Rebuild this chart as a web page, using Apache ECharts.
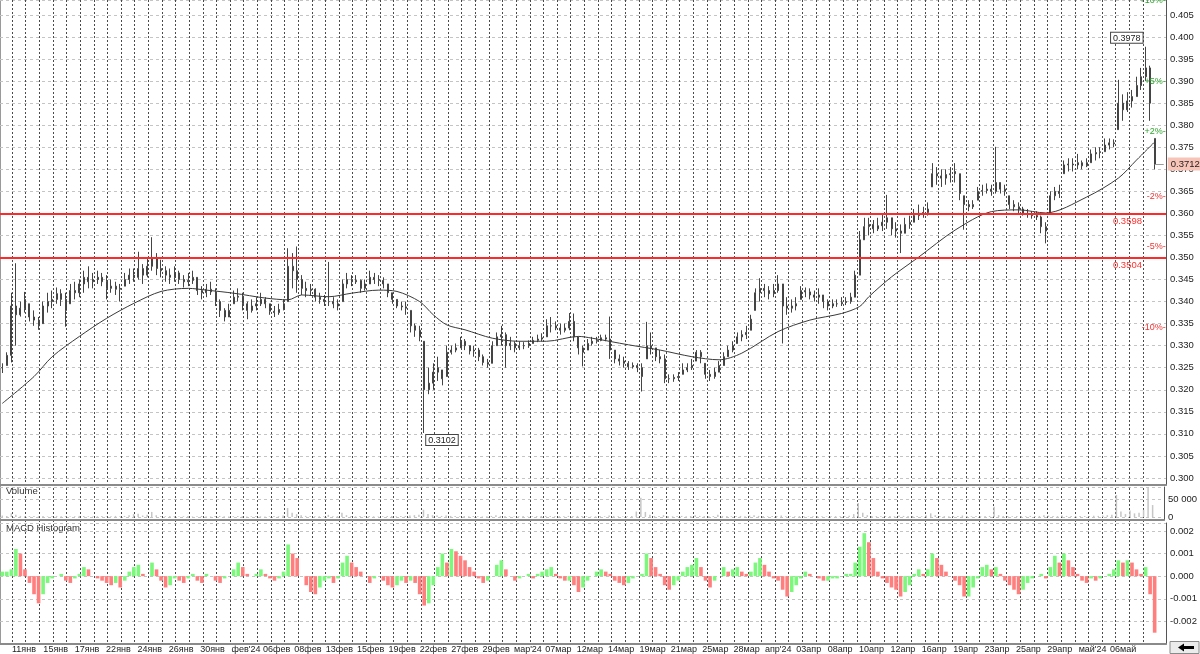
<!DOCTYPE html>
<html>
<head>
<meta charset="utf-8">
<title>price chart</title>
<script src="https://cdn.jsdelivr.net/npm/echarts@6/dist/echarts.min.js"></script>
<style>
  html, body { margin: 0; padding: 0; background: #fff; }
  #chart { width: 1200px; height: 654px; }
</style>
</head>
<body>
<div id="chart"></div>
<script>
// ---- data ----
const dateLabels = ['11янв', '15янв', '17янв', '22янв', '24янв', '26янв', '30янв', "фев'24", '06фев', '08фев',
  '13фев', '15фев', '19фев', '22фев', '27фев', '29фев', "мар'24", '07мар', '12мар', '14мар', '19мар', '21мар',
  '25мар', '28мар', "апр'24", '03апр', '08апр', '10апр', '12апр', '16апр', '19апр', '23апр', '25апр', '29апр',
  "май'24", '06май'];

// intraday bars (about 3 per grid column)
const lows = [
  0.3238, 0.3255, 0.3262, 0.3300, 0.3366, 0.3375, 0.3355, 0.3345, 0.3336, 0.3350, // 0
  0.3375, 0.3385, 0.3395, 0.3390, 0.3343, 0.3395, 0.3405, 0.3410, 0.3420, 0.3430, // 10
  0.3430, 0.3440, 0.3435, 0.3405, 0.3420, 0.3415, 0.3400, 0.3435, 0.3440, 0.3445, // 20
  0.3450, 0.3440, 0.3455, 0.3470, 0.3460, 0.3455, 0.3445, 0.3440, 0.3445, 0.3440, // 30
  0.3432, 0.3435, 0.3440, 0.3415, 0.3405, 0.3410, 0.3415, 0.3390, 0.3365, 0.3355, // 40
  0.3365, 0.3395, 0.3400, 0.3380, 0.3360, 0.3375, 0.3380, 0.3390, 0.3385, 0.3370, // 50
  0.3365, 0.3370, 0.3380, 0.3400, 0.3430, 0.3420, 0.3415, 0.3410, 0.3415, 0.3400, // 60
  0.3395, 0.3390, 0.3390, 0.3385, 0.3380, 0.3400, 0.3430, 0.3435, 0.3440, 0.3420, // 70
  0.3425, 0.3440, 0.3440, 0.3435, 0.3430, 0.3410, 0.3395, 0.3385, 0.3380, 0.3370, // 80
  0.3330, 0.3320, 0.3310, 0.3102, 0.3190, 0.3200, 0.3220, 0.3210, 0.3230, 0.3280, // 90
  0.3285, 0.3295, 0.3290, 0.3280, 0.3275, 0.3265, 0.3255, 0.3250, 0.3260, 0.3300, // 100
  0.3300, 0.3250, 0.3290, 0.3285, 0.3290, 0.3292, 0.3295, 0.3305, 0.3308, 0.3310, // 110
  0.3320, 0.3330, 0.3335, 0.3325, 0.3330, 0.3335, 0.3310, 0.3280, 0.3253, 0.3290, // 120
  0.3300, 0.3305, 0.3310, 0.3310, 0.3270, 0.3260, 0.3255, 0.3250, 0.3245, 0.3248, // 130
  0.3240, 0.3196, 0.3270, 0.3280, 0.3265, 0.3260, 0.3215, 0.3215, 0.3218, 0.3220, // 140
  0.3235, 0.3240, 0.3245, 0.3265, 0.3260, 0.3225, 0.3220, 0.3225, 0.3240, 0.3255, // 150
  0.3275, 0.3285, 0.3305, 0.3310, 0.3315, 0.3335, 0.3380, 0.3400, 0.3410, 0.3405, // 160
  0.3410, 0.3420, 0.3305, 0.3370, 0.3375, 0.3380, 0.3405, 0.3410, 0.3405, 0.3400, // 170
  0.3395, 0.3385, 0.3380, 0.3385, 0.3388, 0.3390, 0.3392, 0.3395, 0.3410, 0.3460, // 180
  0.3540, 0.3550, 0.3555, 0.3560, 0.3560, 0.3565, 0.3550, 0.3545, 0.3510, 0.3555, // 190
  0.3565, 0.3580, 0.3585, 0.3590, 0.3595, 0.3660, 0.3665, 0.3660, 0.3665, 0.3670, // 200
  0.3670, 0.3630, 0.3563, 0.3605, 0.3610, 0.3630, 0.3640, 0.3645, 0.3640, 0.3645, // 210
  0.3645, 0.3640, 0.3610, 0.3605, 0.3600, 0.3595, 0.3590, 0.3588, 0.3585, 0.3555, // 220
  0.3532, 0.3600, 0.3630, 0.3635, 0.3690, 0.3695, 0.3695, 0.3700, 0.3700, 0.3705, // 230
  0.3715, 0.3720, 0.3725, 0.3740, 0.3745, 0.3750, 0.3790, 0.3810, 0.3830, 0.3840, // 240
  0.3865, 0.3880, 0.3900, 0.3810, 0.3700                                          // 250
];
const highs = [
  0.3260, 0.3285, 0.3420, 0.3487, 0.3400, 0.3422, 0.3395, 0.3380, 0.3365, 0.3400,
  0.3420, 0.3425, 0.3432, 0.3428, 0.3420, 0.3440, 0.3445, 0.3450, 0.3470, 0.3480,
  0.3465, 0.3470, 0.3465, 0.3460, 0.3450, 0.3445, 0.3440, 0.3465, 0.3475, 0.3475,
  0.3513, 0.3485, 0.3500, 0.3546, 0.3510, 0.3495, 0.3480, 0.3475, 0.3480, 0.3470,
  0.3460, 0.3465, 0.3470, 0.3455, 0.3435, 0.3440, 0.3445, 0.3430, 0.3405, 0.3385,
  0.3395, 0.3425, 0.3430, 0.3420, 0.3400, 0.3405, 0.3410, 0.3420, 0.3410, 0.3395,
  0.3390, 0.3395, 0.3405, 0.3521, 0.3510, 0.3525, 0.3460, 0.3445, 0.3440, 0.3430,
  0.3420, 0.3415, 0.3490, 0.3410, 0.3405, 0.3450, 0.3465, 0.3460, 0.3460, 0.3450,
  0.3450, 0.3470, 0.3465, 0.3460, 0.3455, 0.3440, 0.3420, 0.3405, 0.3400, 0.3400,
  0.3380, 0.3350, 0.3345, 0.3310, 0.3250, 0.3260, 0.3275, 0.3245, 0.3300, 0.3300,
  0.3305, 0.3320, 0.3315, 0.3300, 0.3300, 0.3295, 0.3280, 0.3270, 0.3310, 0.3330,
  0.3345, 0.3330, 0.3320, 0.3310, 0.3310, 0.3308, 0.3312, 0.3320, 0.3325, 0.3328,
  0.3360, 0.3365, 0.3355, 0.3350, 0.3350, 0.3374, 0.3373, 0.3320, 0.3300, 0.3315,
  0.3320, 0.3320, 0.3325, 0.3325, 0.3366, 0.3290, 0.3280, 0.3275, 0.3265, 0.3262,
  0.3260, 0.3260, 0.3354, 0.3330, 0.3295, 0.3290, 0.3280, 0.3235, 0.3235, 0.3240,
  0.3260, 0.3260, 0.3270, 0.3290, 0.3290, 0.3260, 0.3245, 0.3250, 0.3265, 0.3285,
  0.3300, 0.3310, 0.3330, 0.3335, 0.3345, 0.3370, 0.3430, 0.3453, 0.3440, 0.3435,
  0.3440, 0.3460, 0.3440, 0.3410, 0.3405, 0.3410, 0.3435, 0.3432, 0.3430, 0.3425,
  0.3430, 0.3415, 0.3405, 0.3405, 0.3405, 0.3410, 0.3410, 0.3420, 0.3470, 0.3560,
  0.3590, 0.3590, 0.3585, 0.3590, 0.3600, 0.3642, 0.3590, 0.3580, 0.3575, 0.3590,
  0.3595, 0.3610, 0.3620, 0.3615, 0.3625, 0.3714, 0.3705, 0.3700, 0.3700, 0.3705,
  0.3714, 0.3690, 0.3640, 0.3630, 0.3630, 0.3660, 0.3665, 0.3668, 0.3665, 0.3751,
  0.3670, 0.3665, 0.3640, 0.3630, 0.3625, 0.3615, 0.3610, 0.3605, 0.3605, 0.3595,
  0.3580, 0.3650, 0.3660, 0.3665, 0.3720, 0.3725, 0.3725, 0.3735, 0.3720, 0.3725,
  0.3745, 0.3750, 0.3750, 0.3770, 0.3770, 0.3768, 0.3903, 0.3870, 0.3875, 0.3880,
  0.3910, 0.3930, 0.3978, 0.3935, 0.3770
];
const closes = [
  0.3250, 0.3278, 0.3390, 0.3370, 0.3385, 0.3405, 0.3365, 0.3358, 0.3345, 0.3390,
  0.3400, 0.3405, 0.3418, 0.3405, 0.3380, 0.3425, 0.3420, 0.3440, 0.3455, 0.3445,
  0.3450, 0.3455, 0.3445, 0.3430, 0.3435, 0.3428, 0.3430, 0.3450, 0.3460, 0.3455,
  0.3475, 0.3460, 0.3480, 0.3500, 0.3475, 0.3470, 0.3460, 0.3455, 0.3465, 0.3450,
  0.3445, 0.3448, 0.3455, 0.3425, 0.3420, 0.3428, 0.3422, 0.3400, 0.3380, 0.3365,
  0.3380, 0.3410, 0.3412, 0.3395, 0.3380, 0.3390, 0.3395, 0.3405, 0.3395, 0.3378,
  0.3375, 0.3382, 0.3395, 0.3480, 0.3470, 0.3450, 0.3430, 0.3425, 0.3428, 0.3410,
  0.3405, 0.3400, 0.3400, 0.3395, 0.3390, 0.3440, 0.3450, 0.3445, 0.3448, 0.3430,
  0.3440, 0.3455, 0.3450, 0.3448, 0.3440, 0.3420, 0.3405, 0.3390, 0.3388, 0.3385,
  0.3345, 0.3335, 0.3320, 0.3200, 0.3215, 0.3240, 0.3250, 0.3225, 0.3285, 0.3290,
  0.3295, 0.3310, 0.3300, 0.3288, 0.3290, 0.3275, 0.3262, 0.3258, 0.3300, 0.3320,
  0.3325, 0.3300, 0.3305, 0.3295, 0.3300, 0.3300, 0.3305, 0.3312, 0.3315, 0.3318,
  0.3345, 0.3345, 0.3340, 0.3335, 0.3340, 0.3355, 0.3320, 0.3295, 0.3285, 0.3305,
  0.3310, 0.3312, 0.3318, 0.3315, 0.3290, 0.3270, 0.3265, 0.3260, 0.3252, 0.3255,
  0.3250, 0.3230, 0.3300, 0.3295, 0.3275, 0.3270, 0.3225, 0.3225, 0.3228, 0.3230,
  0.3245, 0.3250, 0.3255, 0.3285, 0.3275, 0.3235, 0.3230, 0.3240, 0.3255, 0.3275,
  0.3290, 0.3300, 0.3320, 0.3325, 0.3330, 0.3360, 0.3420, 0.3430, 0.3425, 0.3418,
  0.3425, 0.3440, 0.3390, 0.3385, 0.3390, 0.3395, 0.3425, 0.3422, 0.3415, 0.3410,
  0.3415, 0.3400, 0.3390, 0.3395, 0.3395, 0.3398, 0.3400, 0.3410, 0.3460, 0.3540,
  0.3570, 0.3575, 0.3565, 0.3572, 0.3580, 0.3590, 0.3565, 0.3560, 0.3555, 0.3575,
  0.3580, 0.3595, 0.3600, 0.3602, 0.3610, 0.3690, 0.3685, 0.3680, 0.3688, 0.3690,
  0.3695, 0.3645, 0.3620, 0.3615, 0.3620, 0.3650, 0.3652, 0.3655, 0.3650, 0.3670,
  0.3655, 0.3650, 0.3620, 0.3615, 0.3610, 0.3600, 0.3598, 0.3595, 0.3592, 0.3570,
  0.3560, 0.3640, 0.3650, 0.3645, 0.3710, 0.3712, 0.3710, 0.3715, 0.3708, 0.3715,
  0.3735, 0.3738, 0.3740, 0.3755, 0.3760, 0.3758, 0.3850, 0.3835, 0.3855, 0.3865,
  0.3890, 0.3910, 0.3930, 0.3850, 0.3712
];
const volumes = [
  4000, 3000, 10000, 6000, 3000, 2000, 2500, 3000, 2000, 2500,
  1500, 2000, 3000, 2000, 2500, 1500, 2000, 3000, 2500, 2000,
  1500, 2000, 2500, 1500, 2000, 3000, 2000, 3000, 5000, 8000,
  9000, 4000, 6000, 14000, 5000, 3000, 2000, 2500, 2000, 1500,
  2000, 2500, 1500, 2000, 3000, 2000, 1500, 2500, 3000, 2000,
  1500, 2000, 3000, 2000, 1500, 2000, 2500, 2000, 1500, 2000,
  2500, 2000, 4000, 25000, 12000, 8000, 5000, 3000, 2500, 2000,
  2000, 1500, 6000, 2000, 2500, 12000, 5000, 3000, 2000, 2500,
  2000, 2500, 2000, 1500, 2000, 3000, 2500, 2000, 2500, 3000,
  4000, 5000, 6000, 20000, 8000, 5000, 4000, 3000, 4000, 3000,
  2500, 2000, 3000, 2000, 2500, 2000, 1500, 2000, 3000, 5000,
  3000, 2500, 2000, 1500, 2000, 2500, 1500, 2000, 2500, 3000,
  3000, 2500, 2000, 2500, 2000, 3000, 2500, 3000, 2500, 2000,
  1500, 2000, 2500, 2000, 4000, 3000, 2000, 1500, 2000, 2500,
  15000, 53000, 14000, 6000, 3000, 2500, 5000, 3000, 2000, 2500,
  3000, 2000, 2500, 5000, 3000, 2500, 2000, 2500, 6000, 3000,
  2500, 2000, 2500, 3000, 2000, 4000, 5000, 3000, 2500, 2000,
  2500, 3000, 4000, 2000, 1500, 2000, 2500, 2000, 1500, 2000,
  2500, 2000, 1500, 2000, 2500, 2000, 3000, 3500, 8000, 39000,
  12000, 5000, 3000, 2500, 2000, 3000, 2500, 2000, 4000, 3000,
  2500, 3000, 2500, 2000, 4000, 10000, 5000, 3000, 2500, 2000,
  3000, 2500, 4000, 3000, 2000, 2500, 2000, 2500, 3000, 28000,
  5000, 3000, 2500, 2000, 3000, 2500, 2000, 3000, 2500, 3000,
  5000, 4000, 3000, 2500, 4000, 3000, 2500, 2000, 3000, 2500,
  3000, 3500, 3000, 4000, 5000, 6000, 61000, 15000, 8000, 18000,
  10000, 12000, 20000, 83000, 33000
];
const macdHist = [
  0.0002, 0.0002, 0.0003, 0.0012, 0.0010, 0.0003, -0.0003, -0.0008, -0.0012, -0.0008,
  -0.0003, -0.0001, 0.0000, 0.0001, -0.0002, -0.0003, -0.0001, 0.0001, 0.0004, 0.0003,
  0.0000, -0.0001, -0.0002, -0.0003, -0.0004, -0.0003, -0.0005, -0.0002, 0.0002, 0.0004,
  0.0005, 0.0001, 0.0000, 0.0006, 0.0003, -0.0002, -0.0005, -0.0004, -0.0001, -0.0002,
  -0.0003, -0.0001, 0.0001, -0.0002, -0.0003, 0.0001, 0.0000, -0.0002, -0.0003, -0.0001,
  0.0000, 0.0003, 0.0006, 0.0004, 0.0001, 0.0000, 0.0001, 0.0003, 0.0001, -0.0001,
  -0.0002, -0.0001, 0.0002, 0.0014, 0.0010, 0.0008, 0.0000, -0.0004, -0.0007, -0.0008,
  -0.0005, -0.0002, -0.0001, -0.0003, -0.0001, 0.0006, 0.0009, 0.0006, 0.0004, 0.0002,
  0.0000, -0.0003, -0.0001, 0.0000, -0.0002, -0.0004, -0.0005, -0.0004, -0.0002, -0.0003,
  -0.0002, -0.0003, -0.0008, -0.0013, -0.0012, -0.0004, 0.0004, 0.0010, 0.0006, 0.0012,
  0.0011, 0.0009, 0.0007, 0.0004, 0.0002, -0.0001, -0.0003, -0.0002, 0.0000, 0.0005,
  0.0007, 0.0003, 0.0000, -0.0002, -0.0001, 0.0000, 0.0001, -0.0001, 0.0001, 0.0002,
  0.0003, 0.0004, 0.0001, -0.0001, -0.0002, -0.0002, -0.0004, -0.0007, -0.0005, -0.0002,
  0.0000, 0.0002, 0.0003, 0.0002, 0.0001, -0.0002, -0.0003, -0.0004, -0.0003, -0.0001,
  0.0000, 0.0001, 0.0010, 0.0008, 0.0004, 0.0001, -0.0004, -0.0006, -0.0004, -0.0002,
  0.0002, 0.0004, 0.0005, 0.0008, 0.0004, -0.0002, -0.0005, -0.0002, 0.0000, 0.0004,
  0.0002, 0.0003, 0.0004, 0.0002, 0.0001, 0.0002, 0.0006, 0.0008, 0.0005, 0.0002,
  -0.0001, -0.0002, -0.0006, -0.0009, -0.0007, -0.0004, -0.0001, 0.0002, 0.0001, 0.0000,
  -0.0001, -0.0002, -0.0002, -0.0001, -0.0001, 0.0000, 0.0001, 0.0001, 0.0006, 0.0013,
  0.0019, 0.0015, 0.0008, 0.0002, -0.0001, -0.0003, -0.0005, -0.0006, -0.0009, -0.0007,
  -0.0004, 0.0001, 0.0003, 0.0001, 0.0003, 0.0010, 0.0008, 0.0005, 0.0002, 0.0000,
  -0.0002, -0.0004, -0.0009, -0.0009, -0.0005, -0.0001, 0.0004, 0.0005, 0.0003, 0.0004,
  0.0001, -0.0002, -0.0004, -0.0006, -0.0008, -0.0006, -0.0003, -0.0001, 0.0000, 0.0001,
  -0.0001, 0.0004, 0.0009, 0.0006, 0.0010, 0.0007, 0.0004, 0.0001, -0.0002, -0.0003,
  -0.0001, -0.0002, -0.0001, 0.0000, 0.0001, 0.0003, 0.0007, 0.0006, 0.0007, 0.0006,
  0.0003, 0.0001, 0.0004, -0.0008, -0.0025
];
// moving average, read at these bar positions
const maIdx = [0, 7, 11, 17, 23, 29, 35, 41, 45, 51, 58, 63, 66, 72, 77, 83, 87, 92, 95, 98,
  102, 108, 114, 120, 127, 130, 138, 145, 152, 158, 163, 171, 178, 185, 189, 191, 196, 202, 210, 218,
  224, 230, 239, 246, 250, 254];
const maVals = [0.3169, 0.3230, 0.3275, 0.3321, 0.3362, 0.3396, 0.3423, 0.3430, 0.3426, 0.3419,
  0.3408, 0.3404, 0.3415, 0.3411, 0.3419, 0.3426, 0.3423, 0.3400, 0.3370, 0.3347,
  0.3336, 0.3317, 0.3310, 0.3310, 0.3321, 0.3317, 0.3302, 0.3290, 0.3275, 0.3268,
  0.3283, 0.3332, 0.3358, 0.3373, 0.3389, 0.3411, 0.3456, 0.3501, 0.3562, 0.3604,
  0.3608, 0.3601, 0.3637, 0.3680, 0.3721, 0.3762];

const levelLines = [0.3598, 0.3504];
const lastPrice = 0.3712;
const pctNames = ['+10%', '+5%', '+2%', '-2%', '-5%', '-10%'];
const pctPrices = [0.4083, 0.3898, 0.3786, 0.3638, 0.3526, 0.3341];
const lowMark = [93, 0.3102];
const highMark = [252, 0.3978];
const nBars = 257;     // slots on the time axis
const nDayCols = 83;   // dashed column lines

// ---- build ----
const cats = Array.from({ length: nBars }, (_, i) => i);
const candles = closes.map((c, i) => {
  let o = i === 0 ? c : closes[i - 1];
  o = Math.min(Math.max(o, lows[i]), highs[i]);
  return [o, c, lows[i], highs[i]];
});
const maData = maIdx.map((k, j) => [k, maVals[j]]);
const macdData = macdHist.map((v, i) => ({
  value: v,
  itemStyle: { color: (i > 0 && v < macdHist[i - 1]) ? '#ff7f7f' : '#7cf87c' }
}));

const font = "'Liberation Sans', Arial, sans-serif";
const hSplit = { show: true, lineStyle: { color: '#c4c4c4', type: [3, 3], width: 1 } };
const rightLabel = { fontFamily: font, fontSize: 9.5, color: '#222', margin: 4, showMinLabel: false, showMaxLabel: false };
const catAxis = (gi) => ({
  gridIndex: gi, type: 'category', data: cats, boundaryGap: true,
  axisLine: { show: true, onZero: false, lineStyle: { color: '#8a8a8a', width: 2 } },
  axisTick: { show: false }, axisLabel: { show: false }, splitLine: { show: false }
});
const boxLabel = {
  show: true, fontFamily: font, fontSize: 9, color: '#222',
  backgroundColor: '#fff', borderColor: '#444', borderWidth: 1, padding: [1, 2, 0, 2]
};

const myChart = echarts.init(document.getElementById('chart'));
myChart.setOption({
  animation: false,
  backgroundColor: '#fff',
  grid: [
    { left: 0, right: 34, top: 0, height: 485 },
    { left: 0, right: 34, top: 487, height: 33 },
    { left: 0, right: 34, top: 523, height: 121 },
    { left: 12, right: 57, top: 0, height: 644 },
    { left: 12, right: 90, top: 523, height: 121 }
  ],
  xAxis: [
    catAxis(0), catAxis(1), catAxis(2),
    {
      gridIndex: 3, type: 'value', min: 0, max: nDayCols, interval: 1,
      axisLine: { show: false }, axisTick: { show: false }, axisLabel: { show: false },
      splitLine: { show: true, lineStyle: { color: '#4a4a4a', type: [2, 2], width: 1 } }
    },
    {
      gridIndex: 4, type: 'value', min: 0, max: dateLabels.length - 1, interval: 1,
      axisLine: { show: false }, axisTick: { show: false }, splitLine: { show: false },
      axisLabel: {
        show: true, align: 'left', margin: 3, fontFamily: font, fontSize: 9, color: '#222',
        showMinLabel: true, showMaxLabel: true,
        formatter: (v) => dateLabels[Math.round(v)] || ''
      }
    }
  ],
  yAxis: [
    {
      gridIndex: 0, type: 'value', position: 'right', min: 0.2984, max: 0.4084,
      minInterval: 0.005, maxInterval: 0.005,
      axisLine: { show: true, lineStyle: { color: '#555' } }, axisTick: { show: false },
      axisLabel: Object.assign({ formatter: (v) => v.toFixed(3) }, rightLabel),
      splitLine: hSplit
    },
    {
      gridIndex: 1, type: 'value', position: 'right', min: -8333, max: 83000,
      minInterval: 50000, maxInterval: 50000,
      axisLine: { show: true, lineStyle: { color: '#555' } }, axisTick: { show: false },
      axisLabel: Object.assign({ formatter: (v) => v === 0 ? '0' : (v / 1000).toFixed(0) + ' 000' }, rightLabel),
      splitLine: hSplit
    },
    {
      gridIndex: 2, type: 'value', position: 'right', min: -0.003, max: 0.00235,
      minInterval: 0.001, maxInterval: 0.001,
      axisLine: { show: true, lineStyle: { color: '#555' } }, axisTick: { show: false },
      axisLabel: Object.assign({ formatter: (v) => v.toFixed(3) }, rightLabel),
      splitLine: hSplit
    },
    { gridIndex: 3, type: 'value', show: false, min: 0, max: 1 },
    { gridIndex: 4, type: 'value', show: false, min: 0, max: 1 }
  ],
  series: [
    {
      type: 'candlestick', xAxisIndex: 0, yAxisIndex: 0, data: candles, barWidth: 1.5,
      itemStyle: {
        color: '#5a5a5a', color0: '#5a5a5a', borderColor: '#444', borderColor0: '#444',
        borderColorDoji: '#444', borderWidth: 1
      },
      markLine: {
        silent: true, symbol: ['none', 'none'], animation: false,
        data: levelLines.map((v) => ({
          yAxis: v,
          lineStyle: { color: '#ff2b2b', width: 2, type: 'solid' },
          label: { show: true, position: 'insideEndBottom', distance: [24, 3], formatter: v.toFixed(4),
            fontFamily: font, fontSize: 9.5, color: '#ff3030' }
        })).concat([[
          { coord: [closes.length - 1, lastPrice], lineStyle: { color: '#9a9a9a', width: 1, type: 'solid' },
            label: { show: true, position: 'end', distance: 4, formatter: lastPrice.toFixed(4),
              fontFamily: font, fontSize: 9.5, color: '#222', backgroundColor: '#f8c4b8', padding: [2, 3, 1, 3] } },
          { coord: [nBars - 1, lastPrice] }
        ]])
      },
      markPoint: {
        silent: true, symbol: 'rect', symbolSize: 0, animation: false,
        data: [
          { coord: lowMark, label: Object.assign({ position: [2, 2], align: 'left', verticalAlign: 'top', formatter: lowMark[1].toFixed(4) }, boxLabel) },
          { coord: highMark, label: Object.assign({ position: [-3, -4], align: 'right', verticalAlign: 'bottom', formatter: highMark[1].toFixed(4) }, boxLabel) }
        ].concat(pctNames.map((n, j) => ({
          coord: [nBars - 1, pctPrices[j]],
          label: { show: true, position: 'left', distance: -2, formatter: n + '-', fontFamily: font, fontSize: 9,
            color: n.charAt(0) === '+' ? '#2fa52f' : '#ee3333' }
        })))
      }
    },
    {
      type: 'line', xAxisIndex: 0, yAxisIndex: 0, data: maData, smooth: 0.3,
      showSymbol: false, lineStyle: { color: '#3a3a3a', width: 1 }, z: 3
    },
    {
      type: 'bar', xAxisIndex: 1, yAxisIndex: 1, data: volumes, barWidth: 1.5,
      itemStyle: { color: '#c6c6c6' }
    },
    {
      type: 'bar', xAxisIndex: 2, yAxisIndex: 2, data: macdData, barWidth: '80%'
    }
  ],
  graphic: [
    { type: 'line', shape: { x1: 0.5, y1: 0, x2: 0.5, y2: 644 }, style: { stroke: '#9a9a9a', lineWidth: 1 } },
    { type: 'text', left: 6, top: 486, style: { text: 'Volume', font: '9.5px ' + font, fill: '#333' } },
    { type: 'text', left: 6, top: 523, style: { text: 'MACD Histogram', font: '9.5px ' + font, fill: '#333' } },
    { type: 'rect', shape: { x: 1170, y: 641.5, width: 29, height: 12 }, style: { fill: '#ececec', stroke: '#8a8a8a', lineWidth: 1 } },
    {
      type: 'polygon',
      shape: { points: [[1178, 647.5], [1184, 643.5], [1184, 646], [1194, 646], [1194, 649], [1184, 649], [1184, 651.5]] },
      style: { fill: '#000' }
    }
  ]
});
</script>
</body>
</html>
